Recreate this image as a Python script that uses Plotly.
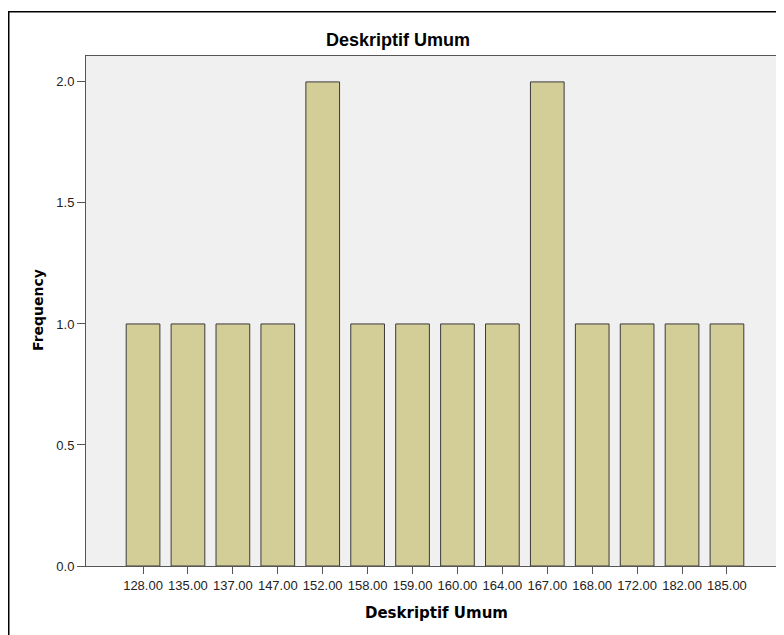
import plotly.graph_objects as go

categories = ["128.00", "135.00", "137.00", "147.00", "152.00", "158.00", "159.00",
              "160.00", "164.00", "167.00", "168.00", "172.00", "182.00", "185.00"]
frequency = [1, 1, 1, 1, 2, 1, 1, 1, 1, 2, 1, 1, 1, 1]
y_ticks = [0.0, 0.5, 1.0, 1.5, 2.0]
y_tick_labels = ["0.0", "0.5", "1.0", "1.5", "2.0"]

# page body has an 8px margin; figure coordinates = reference - 8
OFF = 8
W, H = 784 - OFF, 635 - OFF
L, T = 86 - OFF, 56 - OFF
PB = 566 - OFF
B = H - PB
R = 0

fig = go.Figure()
fig.add_trace(go.Bar(
    x=categories, y=frequency,
    marker=dict(color="#d3ce97", line=dict(color="#3a3a3a", width=1)),
    width=0.75,
))

pw = W - L - R
ph = H - T - B

fig.update_layout(
    width=W, height=H,
    margin=dict(l=L, r=R, t=T, b=B, pad=0),
    paper_bgcolor="white",
    plot_bgcolor="#f0f0f0",
    showlegend=False,
    font=dict(family="Arial, Liberation Sans", size=13, color="#222"),
    title=dict(text="<b>Deskriptif Umum</b>", x=(398 - OFF) / W, xref="container", xanchor="center",
               y=1 - (40 - OFF) / H, yref="container", yanchor="middle",
               font=dict(family="Arial, Liberation Sans", size=18, color="black")),
    xaxis=dict(
        type="category", range=[-1.27, len(categories) - 1 + 1.27],
        showline=True, linecolor="#555", linewidth=1, mirror=True,
        ticks="outside", ticklen=7, tickcolor="#555", tickwidth=1,
        showgrid=False, zeroline=False,
        tickfont=dict(size=13, color="#222"),
    ),
    yaxis=dict(
        range=[0, 2.107], tickvals=y_ticks, ticktext=y_tick_labels,
        showline=True, linecolor="#555", linewidth=1,
        ticks="outside", ticklen=8, tickcolor="#555", tickwidth=1,
        showgrid=False, zeroline=False,
        tickfont=dict(size=13, color="#222"),
    ),
    bargap=0.25,
)

# x-axis title
fig.add_annotation(text="<b>Deskriptif Umum</b>", xref="paper", yref="paper",
                   x=(436 - OFF - L) / pw, y=-(613 - OFF - PB) / ph, xanchor="center", yanchor="middle",
                   showarrow=False, font=dict(family="DejaVu Sans", size=15, color="black"))
# y-axis title
fig.add_annotation(text="<b>Frequency</b>", xref="paper", yref="paper",
                   x=-(L - (38 - OFF)) / pw, y=(PB - (310 - OFF)) / ph, xanchor="center", yanchor="middle",
                   textangle=-90, showarrow=False,
                   font=dict(family="DejaVu Sans", size=14, color="black"))

# outer frame
fig.add_shape(type="rect", xref="paper", yref="paper",
              x0=-(L - 0.75) / pw, x1=1 + 20 / pw,
              y0=-(B + 20) / ph, y1=1 + (T - 3.75) / ph,
              line=dict(color="black", width=1.5), fillcolor="rgba(0,0,0,0)", layer="above")

fig.write_html("out.html")
